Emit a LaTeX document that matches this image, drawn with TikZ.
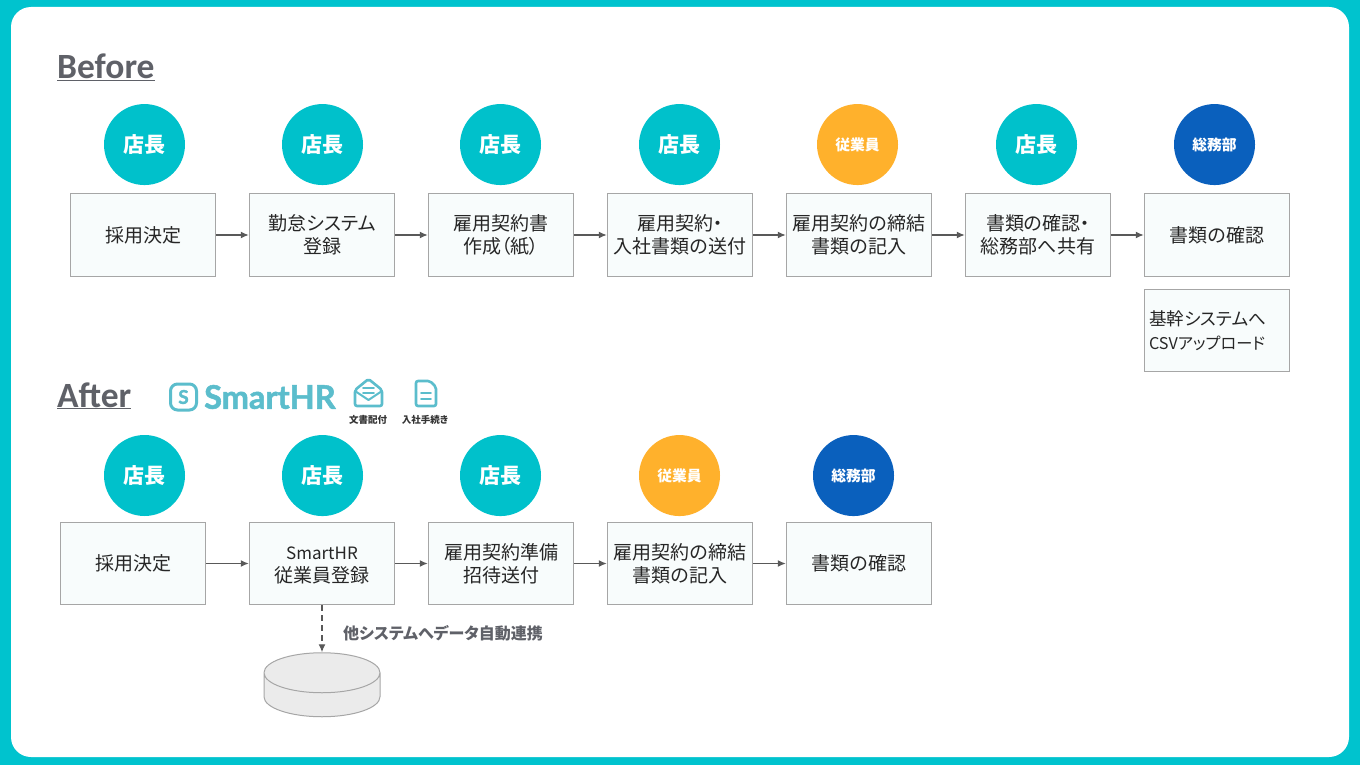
\documentclass[tikz,border=0pt]{standalone}
\usepackage{fontspec}
\usepackage{tikz}
\usetikzlibrary{positioning, shapes.geometric, arrows.meta, calc}
\newfontfamily\cjk[RawFeature={+palt}]{Noto Sans CJK JP}
\newfontfamily\headfont{Carlito}
\newfontfamily\logofont[BoldFeatures={FakeBold=1.6}]{Lato}
\definecolor{frameteal}{HTML}{00C3CE}
\definecolor{staffteal}{HTML}{00C1CB}
\definecolor{staffamber}{HTML}{FFB12C}
\definecolor{staffblue}{HTML}{0A60BD}
\definecolor{boxfill}{HTML}{F8FCFC}
\definecolor{boxline}{HTML}{A6A6A6}
\definecolor{headgray}{HTML}{5F6168}
\definecolor{logoteal}{HTML}{5BBDCC}

\begin{document}
\begin{tikzpicture}[
                x=1pt, y=-1pt,
                stepbox/.style={draw=boxline, fill=boxfill, line width=1pt, rectangle, minimum width=145.5pt, minimum height=82.5pt, inner sep=0pt, align=center, font=\cjk\fontsize{19}{23}\selectfont, text=black!85},
                notebox/.style={stepbox, text width=136pt, align=left, font=\cjk\fontsize{17.6}{23.5}\selectfont},
                role/.style={circle, minimum size=81pt, inner sep=0pt, text=white, font=\cjk\bfseries\fontsize{21}{21}\selectfont},
                tealrole/.style={role, fill=staffteal},
                amberrole/.style={role, fill=staffamber, font=\cjk\bfseries\fontsize{14.8}{15}\selectfont},
                bluerole/.style={role, fill=staffblue, font=\cjk\bfseries\fontsize{14.8}{15}\selectfont},
                flow/.style={-{Latex[length=8pt, width=7pt]}, draw=black!65, line width=1.2pt},
                headline/.style={anchor=base west, inner sep=0pt, text=headgray, font=\headfont\bfseries\fontsize{35.5}{36}\selectfont},
                tinylabel/.style={inner sep=0pt, text=black!80, font=\cjk\bfseries\fontsize{9.5}{10}\selectfont},
                logoline/.style={draw=logoteal, line width=2.6pt, line join=round, line cap=round}
            ]

            % Hintergrund
            \fill[frameteal] (0,0) rectangle (1360,765);
            \fill[white, rounded corners=20pt] (11,7) rectangle (1349,757);
            \useasboundingbox (0,0) rectangle (1360,765);

            % Before
            \node[headline] (before) at (57,79) {\underline{Before}};

            \node[stepbox] (b1) at (143,235) {採用決定};
            \node[stepbox, right=32.5pt of b1] (b2) {勤怠システム\\登録};
            \node[stepbox, right=32.5pt of b2] (b3) {雇用契約書\\作成（紙）};
            \node[stepbox, right=32.5pt of b3] (b4) {雇用契約・\\入社書類の送付};
            \node[stepbox, right=32.5pt of b4] (b5) {雇用契約の締結\\書類の記入};
            \node[stepbox, right=32.5pt of b5] (b6) {書類の確認・\\総務部へ共有};
            \node[stepbox, right=32.5pt of b6] (b7) {書類の確認};
            \node[notebox, below=12pt of b7] (b8) {基幹システムへ\\{\fontsize{16.2}{23.5}\selectfont CSVアップロード}};

            \node[tealrole, above=8pt of b1, xshift=1.5pt] (r1) {店長};
            \node[tealrole, above=8pt of b2, xshift=0.5pt] (r2) {店長};
            \node[tealrole, above=8pt of b3, xshift=-0.5pt] (r3) {店長};
            \node[tealrole, above=8pt of b4, xshift=-0.5pt] (r4) {店長};
            \node[amberrole, above=8pt of b5, xshift=-1.5pt] (r5) {従業員};
            \node[tealrole, above=8pt of b6, xshift=-1.5pt] (r6) {店長};
            \node[bluerole, above=8pt of b7, xshift=-2.5pt] (r7) {総務部};

            \draw[flow] (b1) -- (b2);
            \draw[flow] (b2) -- (b3);
            \draw[flow] (b3) -- (b4);
            \draw[flow] (b4) -- (b5);
            \draw[flow] (b5) -- (b6);
            \draw[flow] (b6) -- (b7);

            % After
            \node[headline] (after) at (57,407) {\underline{After}};

            % Logo
            \node[logoline, draw, line width=3pt, rounded corners=7pt, minimum size=26pt, inner sep=0pt, text=logoteal, font=\logofont\bfseries\fontsize{19}{19}\selectfont] (logomark) at (183.5,397) {S};
            \node[anchor=west, inner sep=0pt, text=logoteal, font=\logofont\bfseries\fontsize{32.5}{33}\selectfont] (logotext) at (204,397) {SmartHR};
            \draw[logoline, rounded corners=2pt] (355,390) -- (368.5,379) -- (382,390) -- (382,406) -- (355,406) -- cycle;
            \draw[logoline, line width=2pt] (355,391) -- (368.5,400) -- (382,391);
            \draw[logoline, line width=1.6pt] (363,388) -- (374,388) (363,393) -- (374,393);
            \draw[logoline, rounded corners=2pt] (416,381) -- (430,381) -- (436,387) -- (436,406) -- (416,406) -- cycle;
            \draw[logoline, line width=1.6pt] (421,393) -- (431,393) (421,399) -- (431,399);
            \node[tinylabel] (docs) at (368,420) {文書配付};
            \node[tinylabel] (hire) at (425,420) {入社手続き};

            \node[stepbox] (a1) at (133,563.5) {採用決定};
            \node[stepbox, right=42.5pt of a1] (a2) {\vphantom{採}{\fontsize{17}{23}\selectfont SmartHR}\\従業員登録};
            \node[stepbox, right=32.5pt of a2] (a3) {雇用契約準備\\招待送付};
            \node[stepbox, right=32.5pt of a3] (a4) {雇用契約の締結\\書類の記入};
            \node[stepbox, right=32.5pt of a4] (a5) {書類の確認};

            \node[tealrole] (s1) at (144.5,475.5) {店長};
            \node[tealrole, above=5.5pt of a2, xshift=0.5pt] (s2) {店長};
            \node[tealrole, above=5.5pt of a3, xshift=-0.5pt] (s3) {店長};
            \node[amberrole, above=5.5pt of a4, xshift=-0.5pt] (s4) {従業員};
            \node[bluerole, above=5.5pt of a5, xshift=-5.5pt] (s5) {総務部};

            \draw[flow] (a1) -- (a2);
            \draw[flow] (a2) -- (a3);
            \draw[flow] (a3) -- (a4);
            \draw[flow] (a4) -- (a5);

            % Datenbank
            \node[cylinder, shape border rotate=90, aspect=4, draw=boxline, fill=black!8, line width=1pt, minimum width=116pt, minimum height=64pt, inner sep=5pt, below=47pt of a2] (db) {};
            \draw[flow, dash pattern=on 6pt off 4pt] (a2.south) -- (db.north) node[coordinate, pos=0.5] (dbmid) {};
            \node[right=21pt of dbmid, yshift=-5pt, anchor=west, inner sep=0pt, text=headgray, font=\cjk\bfseries\fontsize{16}{16}\selectfont] (synclabel) {他システムへデータ自動連携};

        \end{tikzpicture}
\end{document}
